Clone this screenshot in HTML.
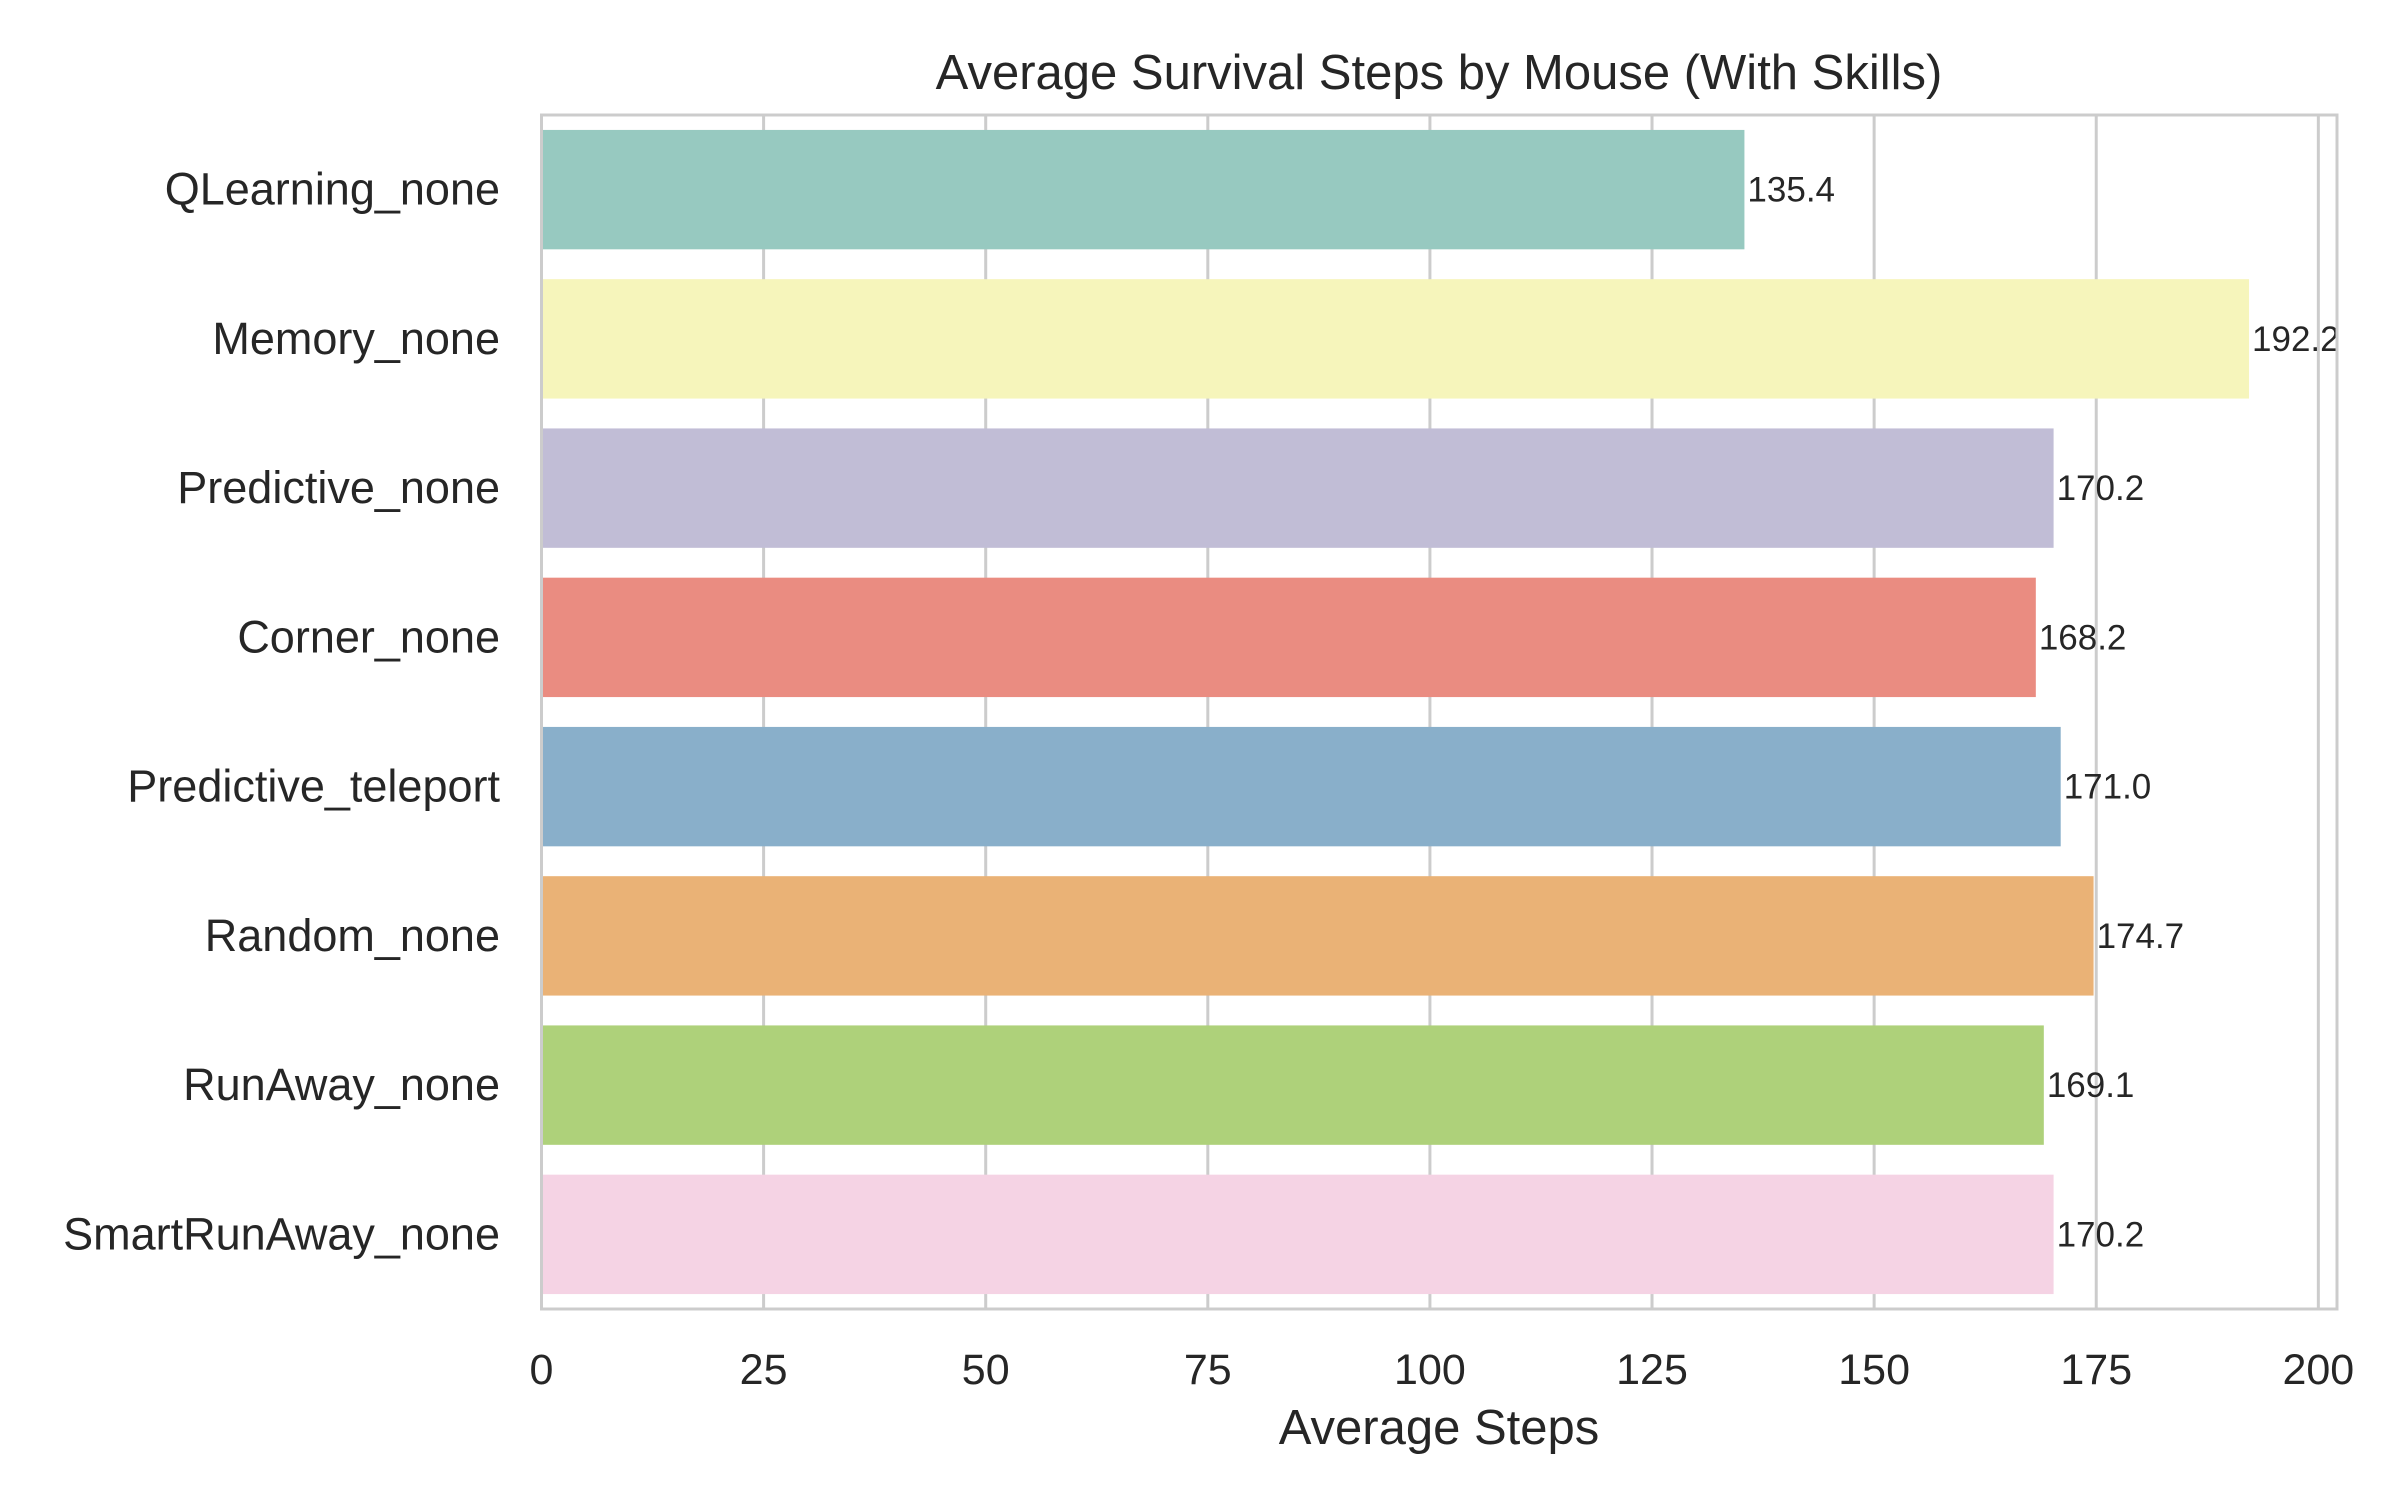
<!DOCTYPE html>
<html><head><meta charset="utf-8"><style>
html,body{margin:0;padding:0;background:#fff;}
svg{display:block;font-family:"Liberation Sans",Arial,sans-serif;}
</style></head><body>
<svg id="chart" width="2400" height="1500" viewBox="0 0 2400 1500" xmlns="http://www.w3.org/2000/svg">
<rect width="2400" height="1500" fill="#fff"/>
<text x="1439" y="89" text-anchor="middle" font-size="49" fill="#262626">Average Survival Steps by Mouse (With Skills)</text>
<text x="1439" y="1444" text-anchor="middle" font-size="49" fill="#262626">Average Steps</text>
<g id="grid"></g><g id="bars"></g><g id="labels"></g>
<rect x="541.5" y="115" width="1795.5" height="1194" fill="none" stroke="#cccccc" stroke-width="3"/>
</svg>
<script>
const categories=["QLearning_none","Memory_none","Predictive_none","Corner_none","Predictive_teleport","Random_none","RunAway_none","SmartRunAway_none"];
const values=[135.4,192.2,170.2,168.2,171.0,174.7,169.1,170.2];
const valueLabels=["135.4","192.2","170.2","168.2","171.0","174.7","169.1","170.2"];
const xTicks=[0,25,50,75,100,125,150,175,200];
const colors=["#97c9c0","#f6f5bb","#c1bdd6","#ea8c81","#89afca","#eab276","#aed17a","#f5d3e4"];
const L=541.5,R=2337,T=115,B=1309,XMAX=202.1;
const NS="http://www.w3.org/2000/svg";
function xs(v){return L+(v/XMAX)*(R-L);}
const band=(B-T)/categories.length;
function ys(i){return T+band*i+band/2;}
function mk(tag,attrs,parent){const e=document.createElementNS(NS,tag);for(const k in attrs)e.setAttribute(k,attrs[k]);parent.appendChild(e);return e;}
const g=document.getElementById('grid'),bg=document.getElementById('bars'),lg=document.getElementById('labels');
xTicks.forEach(t=>{
  const l=mk('line',{x1:xs(t),x2:xs(t),y1:T,y2:B,stroke:'#cccccc','stroke-width':3},g);
  
  
  const tx=mk('text',{x:xs(t),y:1384,'text-anchor':'middle','font-size':43,fill:'#262626'},lg);
  tx.textContent=t;
  
  
});
const bh=band*0.8;
categories.forEach((c,i)=>{
  const r=mk('rect',{x:xs(0),y:ys(i)-bh/2,width:xs(values[i])-xs(0),height:bh,fill:colors[i]},bg);
  
  
  const v=mk('text',{x:xs(values[i])+3,y:ys(i)+12,'font-size':35,fill:'#262626'},lg);
  v.textContent=valueLabels[i];
  
  
  const t=mk('text',{x:500,y:ys(i)+15,'text-anchor':'end','font-size':45,fill:'#262626'},lg);
  t.textContent=c;
  
  
});
</script>
</body></html>
